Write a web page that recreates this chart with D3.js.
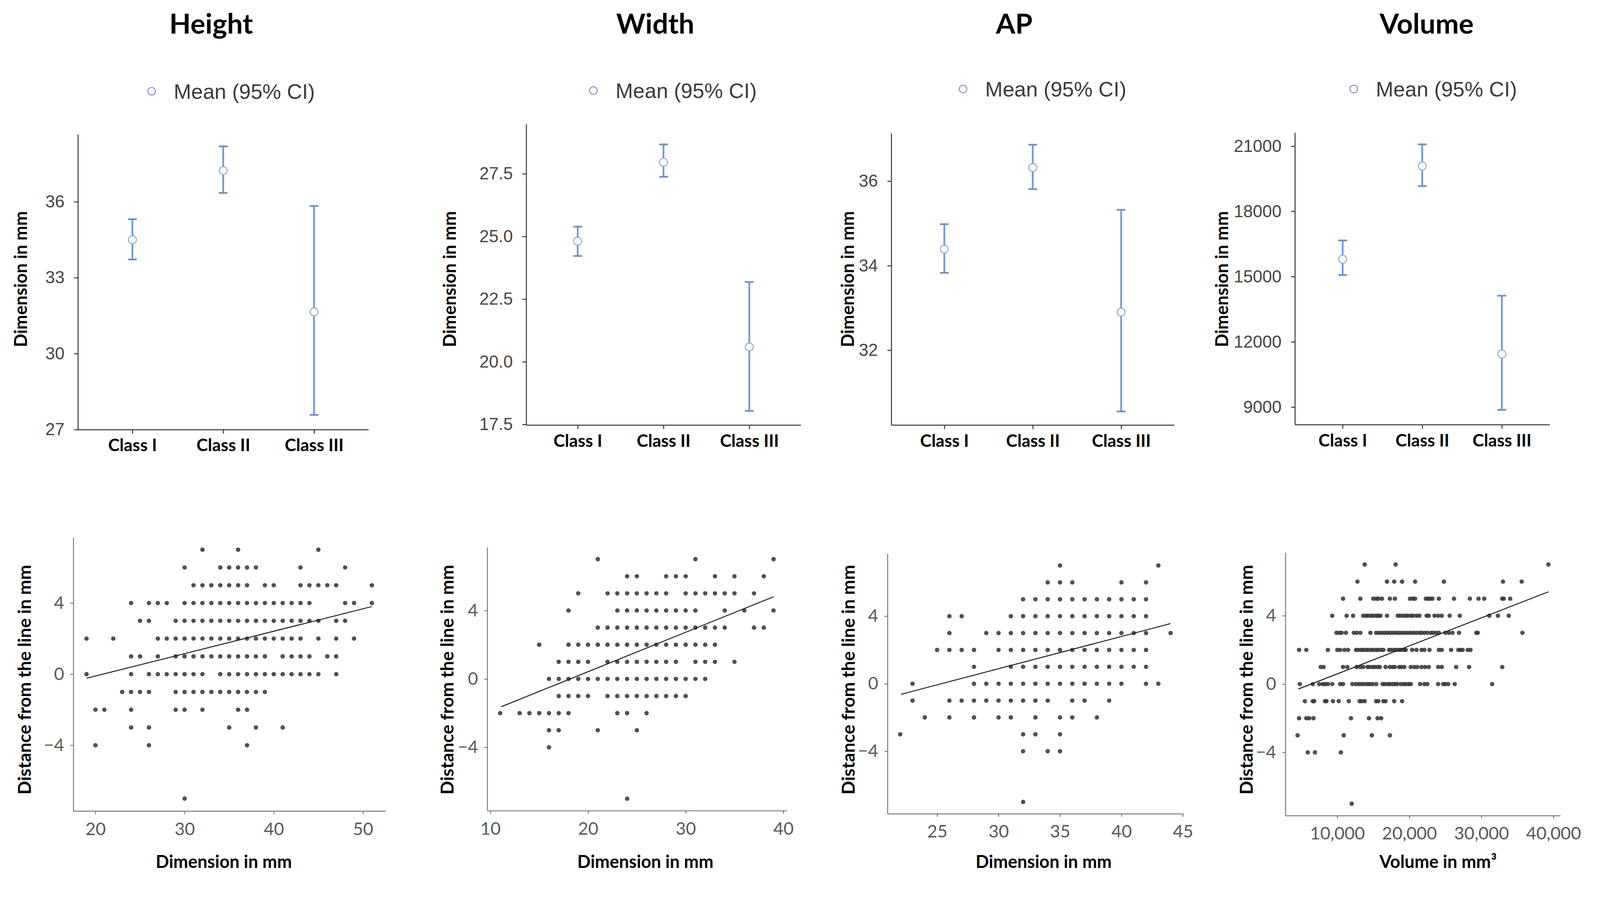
<!DOCTYPE html>
<html>
<head>
<meta charset="utf-8">
<script src="https://cdn.jsdelivr.net/npm/d3@7"></script>
<style>
  html, body { margin: 0; padding: 0; width: 100%; height: 100%; overflow: hidden; background: #fff; }
  svg { display: block; width: 100vw; height: 100vh; }
</style>
</head>
<body>
<svg id="chart" viewBox="0 0 4190 2299" preserveAspectRatio="xMidYMin meet"></svg>
<script>
// ---- data ----
var classes = ["Class I", "Class II", "Class III"];

var heightMean = [34.5, 37.23, 31.65];
var heightLo   = [33.72, 36.35, 27.58];
var heightHi   = [35.31, 38.19, 35.83];
var heightTicks = [27, 30, 33, 36];

var widthMean = [24.81, 27.96, 20.59];
var widthLo   = [24.22, 27.38, 18.04];
var widthHi   = [25.39, 28.67, 23.18];
var widthTicks = [17.5, 20, 22.5, 25, 27.5];

var apMean = [34.39, 36.32, 32.9];
var apLo   = [33.83, 35.81, 30.55];
var apHi   = [34.98, 36.86, 35.32];
var apTicks = [32, 34, 36];

var volMean = [15800, 20080, 11440];
var volLo   = [15070, 19160, 8870];
var volHi   = [16660, 21080, 14120];
var volTicks = [9000, 12000, 15000, 18000, 21000];

// scatter: [distance from line, [x values]]
var heightRows = [
  [7, [32, 36, 45]],
  [6, [30, 34, 35, 36, 37, 38, 43, 48]],
  [5, [31, 32, 33, 34, 35, 36, 37, 39, 40, 43, 44, 45, 46, 47, 51]],
  [4, [24, 26, 27, 28, 30, 31, 32, 33, 34, 35, 36, 37, 38, 39, 40, 41, 42, 43, 44, 48, 49, 51]],
  [3, [25, 26, 29, 30, 31, 32, 33, 34, 35, 36, 37, 38, 39, 40, 41, 42, 43, 44, 45, 47, 48]],
  [2, [19, 22, 27, 28, 29, 30, 31, 32, 33, 34, 35, 36, 37, 38, 39, 40, 41, 42, 43, 45, 47, 49]],
  [1, [24, 25, 27, 29, 30, 31, 32, 33, 34, 35, 36, 37, 38, 39, 41, 42, 43, 44, 46, 47]],
  [0, [19, 24, 26, 27, 28, 29, 30, 31, 32, 34, 35, 36, 37, 38, 39, 40, 41, 42, 43, 44, 45, 47]],
  [-1, [23, 24, 25, 26, 29, 30, 31, 32, 33, 34, 35, 36, 37, 38, 39]],
  [-2, [20, 21, 24, 29, 30, 32, 36, 37]],
  [-3, [24, 26, 35, 38, 41]],
  [-4, [20, 26, 37]],
  [-7, [30]]
];
var heightFit = [[19, -0.23], [51, 3.8]];
var heightXTicks = [20, 30, 40, 50];

var widthRows = [
  [7, [21, 31, 39]],
  [6, [24, 25, 28, 29, 30, 33, 35, 38]],
  [5, [19, 22, 23, 24, 25, 26, 27, 28, 30, 31, 32, 33, 34, 35, 37]],
  [4, [18, 23, 24, 25, 26, 27, 28, 29, 30, 31, 34, 36, 39]],
  [3, [21, 22, 23, 24, 25, 26, 27, 28, 29, 30, 31, 32, 33, 34, 37, 38]],
  [2, [15, 18, 19, 20, 21, 22, 23, 24, 25, 26, 27, 28, 29, 30, 31, 32, 33]],
  [1, [17, 18, 19, 20, 22, 23, 24, 25, 26, 27, 28, 29, 31, 32, 33, 35]],
  [0, [16, 17, 18, 19, 20, 21, 22, 23, 24, 25, 26, 27, 28, 29, 30, 31, 32]],
  [-1, [17, 18, 19, 20, 22, 23, 24, 25, 26, 27, 28, 29, 30]],
  [-2, [11, 13, 14, 15, 16, 17, 18, 23, 24, 26]],
  [-3, [16, 17, 21, 25]],
  [-4, [16]],
  [-7, [24]]
];
var widthFit = [[11.1, -1.63], [39, 4.8]];
var widthXTicks = [10, 20, 30, 40];

var apRows = [
  [7, [35, 43]],
  [6, [34, 35, 36, 40, 42]],
  [5, [32, 33, 34, 35, 36, 37, 38, 39, 40, 41, 42]],
  [4, [26, 27, 31, 32, 33, 34, 35, 36, 37, 38, 39, 40, 41, 42]],
  [3, [26, 29, 30, 31, 32, 33, 34, 35, 36, 37, 38, 39, 40, 41, 42, 44]],
  [2, [25, 26, 27, 28, 30, 31, 32, 33, 34, 35, 36, 37, 38, 39, 40, 41, 42]],
  [1, [28, 31, 32, 33, 34, 35, 36, 37, 38, 39, 40, 41, 42]],
  [0, [23, 28, 29, 30, 31, 32, 33, 34, 35, 36, 37, 38, 39, 40, 42, 43]],
  [-1, [23, 26, 27, 28, 29, 30, 31, 32, 33, 34, 36, 37, 39]],
  [-2, [24, 26, 28, 30, 31, 33, 35, 36, 38]],
  [-3, [22, 32, 33, 35]],
  [-4, [32, 34, 35]],
  [-7, [32]]
];
var apFit = [[22.06, -0.63], [44, 3.56]];
var apXTicks = [25, 30, 35, 40, 45];

var volRows = [
  [7, [13800, 18100, 39300]],
  [6, [12800, 16900, 17900, 19000, 20800, 24800, 33000, 35600]],
  [5, [10800, 13200, 15000, 15400, 15700, 16200, 17300, 18000, 20100, 20500, 20800, 22300, 22600,
       22900, 23200, 24100, 26200, 28400, 29600, 30400, 32900, 33100, 34000]],
  [4, [9300, 11300, 12200, 13600, 14000, 14300, 14700, 15000, 15400, 15700, 16000, 16900, 18400,
       18700, 19100, 19500, 19800, 20200, 20500, 21000, 21400, 22400, 22700, 23500, 24000, 24500,
       25600, 27000, 31100, 32300, 33800]],
  [3, [9900, 10300, 10600, 11200, 12300, 12700, 13200, 14600, 15400, 15800, 16200, 16600, 17000,
       17400, 17800, 18200, 18600, 19000, 19400, 19800, 20200, 20600, 21000, 21400, 21700, 22100,
       22500, 23000, 23300, 23700, 24100, 25000, 25500, 26000, 26900, 29300, 29500, 35700]],
  [2, [4700, 5700, 8700, 10000, 10400, 11000, 11500, 12600, 12900, 13300, 13600, 14000, 14300,
       14700, 15000, 15400, 15700, 16100, 16400, 17200, 17500, 17900, 18200, 18600, 18900, 19300,
       19500, 20400, 21000, 21700, 22100, 22800, 24100, 24500, 25800, 26800, 27100, 27400, 28100, 28500]],
  [1, [7700, 8100, 10800, 11400, 12700, 13200, 13600, 14200, 14500, 14900, 15200, 15600, 15900,
       16700, 17300, 17700, 18000, 18600, 18900, 19300, 20200, 20700, 21100, 21700, 22200, 22700,
       24000, 24500, 26500, 28300, 32900]],
  [0, [4800, 6600, 7500, 8000, 8300, 8700, 9300, 10400, 10800, 12100, 12600, 13000, 13400, 13800,
       14200, 14500, 14900, 15400, 16300, 16600, 17000, 17300, 17700, 18000, 18300, 18800, 19200,
       19500, 19900, 20200, 21500, 22100, 22500, 24000, 24700, 25000, 25400, 26300, 31500]],
  [-1, [5500, 6600, 6800, 8300, 8500, 9400, 10200, 11600, 13100, 13400, 13800, 15400, 15700,
        16400, 16700, 17900, 19000]],
  [-2, [4700, 5700, 6100, 6700, 11900, 14400, 15600, 16100]],
  [-3, [4500, 10900, 14800, 17300]],
  [-4, [5900, 6900, 10500]],
  [-7, [12000]]
];
var volFit = [[4600, -0.29], [39300, 5.4]];
var volXTicks = [10000, 20000, 30000, 40000];

var distTicks = [-4, 0, 4];

// ---- layout (drawn in a 4190 x 2299 frame, scaled to the window) ----
var W = 4190, H = 2299;
var svg = d3.select("#chart");
svg.append("rect").attr("width", W).attr("height", H).attr("fill", "#fff");

var blue = "#6c98da";

function styleAxis(g, lineColor, textColor, font, size, weight) {
  g.select(".domain").attr("stroke", lineColor).attr("stroke-width", 2.5);
  g.selectAll(".tick line").attr("stroke", lineColor).attr("stroke-width", 2.5);
  g.selectAll(".tick text")
    .attr("fill", textColor)
    .style("font-family", font)
    .style("font-size", size + "px")
    .style("font-weight", weight);
}

function drawMeans(cfg) {
  var b = cfg.box;
  var x = d3.scalePoint().domain(classes).range([b.l, b.r]).padding(0.6);
  var y = d3.scaleLinear().domain(cfg.yDomain).range([b.b, b.t]);

  // title
  svg.append("text")
    .attr("x", cfg.titleX).attr("y", 88)
    .attr("text-anchor", "middle")
    .style("font-family", "Lato").style("font-weight", "bold").style("font-size", "73px")
    .attr("fill", "#000")
    .text(cfg.title);

  // legend
  svg.append("circle")
    .attr("cx", cfg.legendX).attr("cy", cfg.legendY).attr("r", 10)
    .attr("fill", "#fff").attr("stroke", "#7f96c8").attr("stroke-width", 2.5);
  svg.append("text")
    .attr("x", cfg.legendX + 58).attr("y", cfg.legendY)
    .attr("dy", "0.36em")
    .style("font-family", "Liberation Sans, Arial").style("font-size", "55px")
    .attr("fill", "#3a3a3a")
    .text("Mean (95% CI)");

  var gy = svg.append("g").attr("transform", "translate(" + b.l + ",0)")
    .call(d3.axisLeft(y).tickValues(cfg.yTicks).tickFormat(cfg.fmt).tickSize(10).tickSizeOuter(0).tickPadding(25));
  styleAxis(gy, "#333", "#444", "Liberation Sans, Arial", 45, "normal");

  var gx = svg.append("g").attr("transform", "translate(0," + b.b + ")")
    .call(d3.axisBottom(x).tickSize(11).tickSizeOuter(0).tickPadding(14));
  styleAxis(gx, "#333", "#000", "Lato", 45, "bold");

  svg.append("text")
    .attr("transform", "translate(" + cfg.yLabelX + "," + 731 + ") rotate(-90)")
    .attr("text-anchor", "middle").attr("dy", "0.36em")
    .style("font-family", "Lato").style("font-weight", "bold").style("font-size", "46px")
    .attr("fill", "#000")
    .text("Dimension in mm");

  var bars = svg.append("g").selectAll("g").data(classes).enter().append("g");
  bars.append("line")
    .attr("x1", function(d) { return x(d); }).attr("x2", function(d) { return x(d); })
    .attr("y1", function(d, i) { return y(cfg.lo[i]); })
    .attr("y2", function(d, i) { return y(cfg.hi[i]); })
    .attr("stroke", blue).attr("stroke-width", 4.5);
  [cfg.lo, cfg.hi].forEach(function(arr) {
    bars.append("line")
      .attr("x1", function(d) { return x(d) - 11.5; }).attr("x2", function(d) { return x(d) + 11.5; })
      .attr("y1", function(d, i) { return y(arr[i]); })
      .attr("y2", function(d, i) { return y(arr[i]); })
      .attr("stroke", "#6f8fc4").attr("stroke-width", 4.5);
  });
  bars.append("circle")
    .attr("cx", function(d) { return x(d); })
    .attr("cy", function(d, i) { return y(cfg.mean[i]); })
    .attr("r", 10.5)
    .attr("fill", "#fff").attr("stroke", "#8c9cc4").attr("stroke-width", 2.2);
}

function drawScatter(cfg) {
  var b = cfg.box;
  var x = d3.scaleLinear().domain(cfg.xDomain).range([b.l, b.r]);
  var y = d3.scaleLinear().domain([-7.7, 7.7]).range([b.b, b.t]);

  var gy = svg.append("g").attr("transform", "translate(" + b.l + ",0)")
    .call(d3.axisLeft(y).tickValues(distTicks).tickFormat(d3.format("")).tickSize(8).tickSizeOuter(0).tickPadding(16));
  styleAxis(gy, "#7a7a7a", "#595959", "Lato", 46, "normal");
  gy.selectAll(".tick text").text(function(d) { return d < 0 ? "\u2212" + Math.abs(d) : d; });

  var gx = svg.append("g").attr("transform", "translate(0," + b.b + ")")
    .call(d3.axisBottom(x).tickValues(cfg.xTicks).tickFormat(cfg.fmt).tickSize(8).tickSizeOuter(0).tickPadding(22));
  styleAxis(gx, "#7a7a7a", "#595959", "Lato", 46, "normal");

  var pts = cfg.rows.flatMap(function(r) {
    return r[1].map(function(v) { return { x: v, y: r[0] }; });
  });
  svg.append("g").selectAll("circle").data(pts).enter().append("circle")
    .attr("cx", function(d) { return x(d.x); })
    .attr("cy", function(d) { return y(d.y); })
    .attr("r", 5.8)
    .attr("fill", "#383838").attr("fill-opacity", 0.88);

  svg.append("path")
    .datum(cfg.fit)
    .attr("d", d3.line().x(function(d) { return x(d[0]); }).y(function(d) { return y(d[1]); }))
    .attr("stroke", "#1e1e1e").attr("stroke-width", 2.5).attr("fill", "none");

  svg.append("text")
    .attr("transform", "translate(" + cfg.yLabelX + ",1780) rotate(-90)")
    .attr("text-anchor", "middle").attr("dy", "0.36em")
    .style("font-family", "Lato").style("font-weight", "bold").style("font-size", "47px")
    .attr("fill", "#000")
    .text("Distance from the line in mm");

  svg.append("text")
    .attr("x", cfg.xLabelX).attr("y", 2256).attr("dy", "0.36em")
    .attr("text-anchor", "middle")
    .style("font-family", "Lato").style("font-weight", "bold").style("font-size", "46px")
    .attr("fill", "#000")
    .text(cfg.xLabel);
}

var f1 = d3.format(".1f"), f0 = d3.format("d"), fc = d3.format(",");

drawMeans({ title: "Height", titleX: 553, legendX: 397, legendY: 239, yLabelX: 54,
  box: { l: 204, r: 965, t: 352, b: 1125 }, yDomain: [27, 38.66], yTicks: heightTicks, fmt: f0,
  mean: heightMean, lo: heightLo, hi: heightHi });
drawMeans({ title: "Width", titleX: 1716, legendX: 1554, legendY: 237, yLabelX: 1177,
  box: { l: 1378, r: 2097, t: 325, b: 1113 }, yDomain: [17.48, 29.48], yTicks: widthTicks, fmt: f1,
  mean: widthMean, lo: widthLo, hi: widthHi });
drawMeans({ title: "AP", titleX: 2656, legendX: 2522, legendY: 233, yLabelX: 2220,
  box: { l: 2334, r: 3075, t: 348, b: 1113 }, yDomain: [30.23, 37.14], yTicks: apTicks, fmt: f0,
  mean: apMean, lo: apLo, hi: apHi });
drawMeans({ title: "Volume", titleX: 3736, legendX: 3545, legendY: 233, yLabelX: 3200,
  box: { l: 3391, r: 4058, t: 347, b: 1112 }, yDomain: [8192, 21625], yTicks: volTicks, fmt: f0,
  mean: volMean, lo: volLo, hi: volHi });

drawScatter({ rows: heightRows, fit: heightFit, xTicks: heightXTicks, xDomain: [17.52, 52.55], fmt: f0,
  box: { l: 192, r: 1010, t: 1407, b: 2124 }, yLabelX: 64, xLabelX: 586, xLabel: "Dimension in mm" });
drawScatter({ rows: widthRows, fit: widthFit, xTicks: widthXTicks, xDomain: [9.68, 40.38], fmt: f0,
  box: { l: 1276, r: 2061, t: 1433, b: 2123 }, yLabelX: 1171, xLabelX: 1690, xLabel: "Dimension in mm" });
drawScatter({ rows: apRows, fit: apFit, xTicks: apXTicks, xDomain: [20.96, 45.04], fmt: f0,
  box: { l: 2324, r: 3099, t: 1450, b: 2131 }, yLabelX: 2221, xLabelX: 2733, xLabel: "Dimension in mm" });
drawScatter({ rows: volRows, fit: volFit, xTicks: volXTicks, xDomain: [2793, 40954], fmt: fc,
  box: { l: 3366, r: 4086, t: 1447, b: 2136 }, yLabelX: 3264, xLabelX: 3766, xLabel: "Volume in mm\u00b3" });
</script>
</body>
</html>
